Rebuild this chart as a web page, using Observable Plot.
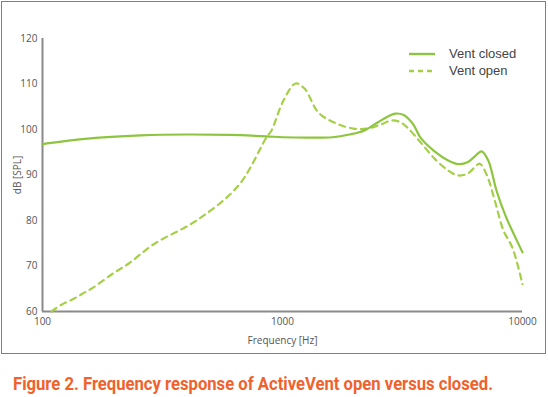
<!DOCTYPE html>
<html><head><meta charset="utf-8">
<script src="https://cdn.jsdelivr.net/npm/d3@7"></script>
<script src="https://cdn.jsdelivr.net/npm/@observablehq/plot@0.6"></script>
<style>
body{margin:0;background:#fff;width:548px;height:397px;overflow:hidden;position:relative;font-family:"Open Sans",sans-serif}
#frame{position:absolute;left:1px;top:1px;width:543px;height:351px;border:1.5px solid #76857c;pointer-events:none}
#chart{position:absolute;left:0;top:0}
#legend{position:absolute;left:408px;top:45px;font-family:"Liberation Sans",Arial,sans-serif;font-size:13px;color:#444;line-height:17px}
#legend div{display:flex;align-items:center}
#legend svg{margin-right:13px}
#caption{position:absolute;left:13px;top:372px;font-family:Roboto,"Liberation Sans",sans-serif;font-weight:bold;font-size:19px;color:#f0622d;white-space:nowrap;transform-origin:0 0;display:inline-block}
</style></head>
<body>
<div id="chart"></div>
<div id="frame"></div>
<div id="legend"></div>
<span id="caption">Figure 2. Frequency response of ActiveVent open versus closed.</span>
<script>
const seriesNames = ["Vent closed", "Vent open"];
const closedFreq = [100, 103, 154, 256, 400, 600, 858, 1000, 1300, 1616, 1900, 2196, 2500, 2800, 2958, 3200, 3500, 3758, 4300, 4900, 5410, 5900, 6300, 6750, 7200, 7790, 8500, 9300, 10000];
const closedDb   = [96.8, 96.9, 98.0, 98.7, 98.9, 98.8, 98.5, 98.3, 98.2, 98.3, 98.9, 99.8, 101.6, 103.1, 103.5, 103.2, 101.2, 98.2, 95.2, 93.2, 92.4, 92.8, 94.0, 95.2, 93.2, 86.6, 81.0, 76.5, 73.0];
const openFreq = [109, 120, 135, 150, 163, 196, 228, 293, 438, 656, 858, 900, 1010, 1133, 1235, 1413, 1679, 1976, 2260, 2600, 2847, 3100, 3318, 3758, 4300, 4900, 5410, 5900, 6300, 6620, 7100, 7700, 8330, 9080, 10000];
const openDb   = [60.0, 61.5, 62.8, 64.2, 65.3, 68.3, 70.5, 74.9, 80.0, 87.7, 98.3, 99.8, 106.4, 110.1, 109.0, 103.7, 101.3, 100.2, 100.2, 101.2, 102.0, 101.6, 100.4, 97.2, 93.6, 91.0, 89.9, 90.3, 91.6, 92.5, 90.0, 84.0, 77.8, 74.0, 66.0];
const xTicks = [100, 1000, 10000];
const yTicks = [60, 70, 80, 90, 100, 110, 120];
const colors = ["#8dc53e", "#a6cf48"];

const closed = closedFreq.map((f, i) => ({f, db: closedDb[i]}));
const open = openFreq.map((f, i) => ({f, db: openDb[i]}));

const chart = Plot.plot({
  width: 548, height: 356,
  marginLeft: 42, marginRight: 26, marginTop: 38, marginBottom: 45,
  style: {fontFamily: "'Open Sans', sans-serif", fontSize: "10px", color: "#555", background: "transparent"},
  x: {type: "log", domain: [100, 10000]},
  y: {domain: [60, 120]},
  marks: [
    Plot.axisY({ticks: yTicks, tickSize: 0, tickPadding: 5, label: "dB [SPL]", labelAnchor: "center", labelArrow: "none", labelOffset: 29, fontSize: 10}),
    Plot.axisX({ticks: xTicks, tickSize: 0, tickPadding: 6, tickFormat: d => String(d), label: "Frequency [Hz]", labelAnchor: "center", labelArrow: "none", labelOffset: 32, fontSize: 10}),
    Plot.ruleX([100], {stroke: "#8a8a8a", strokeWidth: 2}),
    Plot.ruleY([60], {stroke: "#8a8a8a", strokeWidth: 2}),
    Plot.line(open, {x: "f", y: "db", stroke: colors[1], strokeWidth: 2.2, strokeDasharray: "6,5", curve: "catmull-rom"}),
    Plot.line(closed, {x: "f", y: "db", stroke: colors[0], strokeWidth: 2.2, curve: "catmull-rom"})
  ]
});
document.getElementById("chart").appendChild(chart);

const legend = document.getElementById("legend");
seriesNames.forEach((name, i) => {
  const row = document.createElement("div");
  row.innerHTML = `<svg width="28" height="10"><line x1="1" x2="27" y1="5" y2="5" stroke="${colors[i]}" stroke-width="2.4" ${i ? 'stroke-dasharray="5,4"' : ''}/></svg><span>${name}</span>`;
  legend.appendChild(row);
});

const cap = document.getElementById("caption");
const w = cap.getBoundingClientRect().width;
cap.style.transform = `scaleX(${480 / w})`;
</script>
</body></html>
